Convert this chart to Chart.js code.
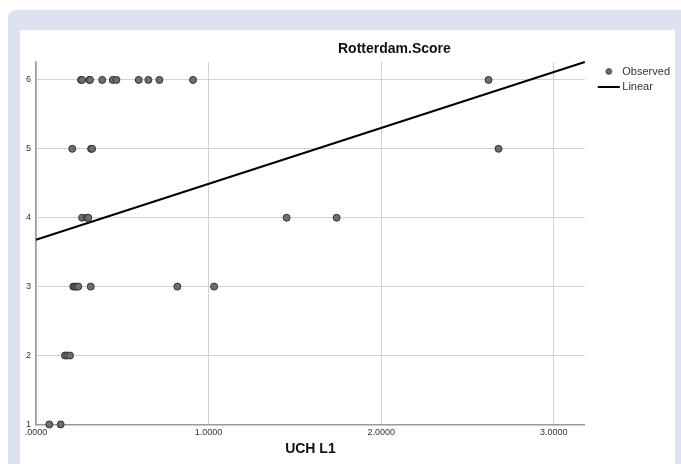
<!DOCTYPE html>
<html>
<head>
    <title>Rotterdam.Score by UCH L1</title>
    <style>
        body {
            margin: 0;
            background: #ffffff;
            font-family: Arial, "Liberation Sans", sans-serif;
            overflow: hidden;
        }
        .frame {
            position: absolute;
            left: 8px;
            top: 10px;
            width: 700px;
            height: 480px;
            background: #dee2f0;
            border-radius: 8px;
        }
        .panel {
            position: absolute;
            left: 20px;
            top: 30px;
            width: 655px;
            height: 460px;
            background: #ffffff;
        }
        .chartBox {
            position: absolute;
            left: 0;
            top: 0;
            width: 681px;
            height: 464px;
        }
    </style>
    <script src="https://cdn.jsdelivr.net/npm/chart.js"></script>
</head>
<body>
    <div class="frame"></div>
    <div class="panel"></div>
    <div class="chartBox">
        <canvas id="graph"></canvas>
    </div>

    <script>
        // values
        const uchL1 = [
            0.261, 0.267, 0.309, 0.313, 0.384, 0.445, 0.466, 0.595, 0.651, 0.715, 0.910, 2.622,
            0.210, 0.319, 0.325, 2.680,
            0.267, 0.294, 0.303, 1.452, 1.742,
            0.216, 0.226, 0.236, 0.245, 0.317, 0.819, 1.032,
            0.168, 0.181, 0.197,
            0.077, 0.143
        ];
        const rotterdamScore = [
            6, 6, 6, 6, 6, 6, 6, 6, 6, 6, 6, 6,
            5, 5, 5, 5,
            4, 4, 4, 4, 4,
            3, 3, 3, 3, 3, 3, 3,
            2, 2, 2,
            1, 1
        ];
        // fitted line end points
        const fitX = [0, 3.18];
        const fitY = [3.68, 6.26];

        const xTickLabels = ['.0000', '1.0000', '2.0000', '3.0000'];
        const yTickLabels = ['1', '2', '3', '4', '5', '6'];
        const seriesNames = ['Observed', 'Linear'];
        const chartTitle = 'Rotterdam.Score';
        const xTitle = 'UCH L1';

        const observed = uchL1.map((x, i) => ({ x: x, y: rotterdamScore[i] }));
        const linear = fitX.map((x, i) => ({ x: x, y: fitY[i] }));

        // legend symbols, drawn to the right side of a wide transparent box
        const dot = document.createElement('canvas');
        dot.width = 46; dot.height = 9;
        const dctx = dot.getContext('2d');
        dctx.beginPath();
        dctx.arc(29, 4.5, 2.8, 0, Math.PI * 2);
        dctx.fillStyle = '#6e6e6e';
        dctx.fill();
        dctx.strokeStyle = '#333333';
        dctx.lineWidth = 1;
        dctx.stroke();

        const dash = document.createElement('canvas');
        dash.width = 46; dash.height = 2;
        const lctx = dash.getContext('2d');
        lctx.fillStyle = '#000000';
        lctx.fillRect(18, 0, 22, 2);

        const font = 'Arial, "Liberation Sans", sans-serif';

        // title sits off-centre, like the original
        const titlePlugin = {
            id: 'spssTitle',
            afterDraw(chart) {
                const area = chart.chartArea;
                const c = chart.ctx;
                c.save();
                c.font = 'bold 14px ' + font;
                c.fillStyle = '#111111';
                c.textAlign = 'center';
                c.textBaseline = 'middle';
                c.fillText(chartTitle, (area.left + area.right) / 2 + 84, area.top - 13);
                c.restore();
            }
        };

        const ctx = document.getElementById('graph').getContext('2d');
        const myChart = new Chart(ctx, {
            type: 'scatter',
            data: {
                datasets: [{
                    label: seriesNames[0],
                    data: observed,
                    pointRadius: 3.5,
                    pointHoverRadius: 3.5,
                    pointBackgroundColor: '#6e6e6e',
                    pointBorderColor: '#333333',
                    pointBorderWidth: 1,
                    clip: false
                }, {
                    label: seriesNames[1],
                    type: 'line',
                    data: linear,
                    borderColor: '#000000',
                    borderWidth: 2,
                    pointRadius: 0,
                    fill: false,
                    clip: false
                }]
            },
            options: {
                responsive: true,
                maintainAspectRatio: false,
                animation: false,
                layout: {
                    padding: { left: 21, top: 62, right: 1, bottom: 6 }
                },
                scales: {
                    x: {
                        type: 'linear',
                        min: 0,
                        max: 3.18,
                        bounds: 'data',
                        border: { color: '#9a9a9a', width: 1.5 },
                        grid: { color: '#d2d2d2', lineWidth: 1, drawTicks: false },
                        ticks: {
                            stepSize: 1,
                            includeBounds: false,
                            padding: 3,
                            color: '#333333',
                            font: { family: font, size: 9 },
                            callback: (v) => xTickLabels[Math.round(v)]
                        },
                        title: {
                            display: true,
                            text: xTitle,
                            color: '#111111',
                            font: { family: font, size: 14, weight: 'bold' },
                            padding: { top: 0, bottom: 0 }
                        }
                    },
                    y: {
                        type: 'linear',
                        min: 1,
                        max: 6.26,
                        bounds: 'data',
                        border: { color: '#9a9a9a', width: 1.5 },
                        grid: { color: '#d2d2d2', lineWidth: 1, drawTicks: false },
                        ticks: {
                            stepSize: 1,
                            includeBounds: false,
                            padding: 5,
                            color: '#333333',
                            font: { family: font, size: 9 },
                            callback: (v) => yTickLabels[Math.round(v) - 1]
                        }
                    }
                },
                plugins: {
                    legend: {
                        position: 'right',
                        align: 'start',
                        fullSize: false,
                        labels: {
                            usePointStyle: true,
                            pointStyleWidth: 28,
                            boxWidth: 28,
                            boxHeight: 9,
                            padding: 4,
                            color: '#333333',
                            font: { family: font, size: 11 },
                            generateLabels(chart) {
                                const items = Chart.defaults.plugins.legend.labels.generateLabels(chart);
                                items[0].pointStyle = dot;
                                items[1].pointStyle = dash;
                                return items;
                            }
                        }
                    },
                    tooltip: { enabled: false }
                }
            },
            plugins: [titlePlugin]
        });
    </script>
</body>
</html>
